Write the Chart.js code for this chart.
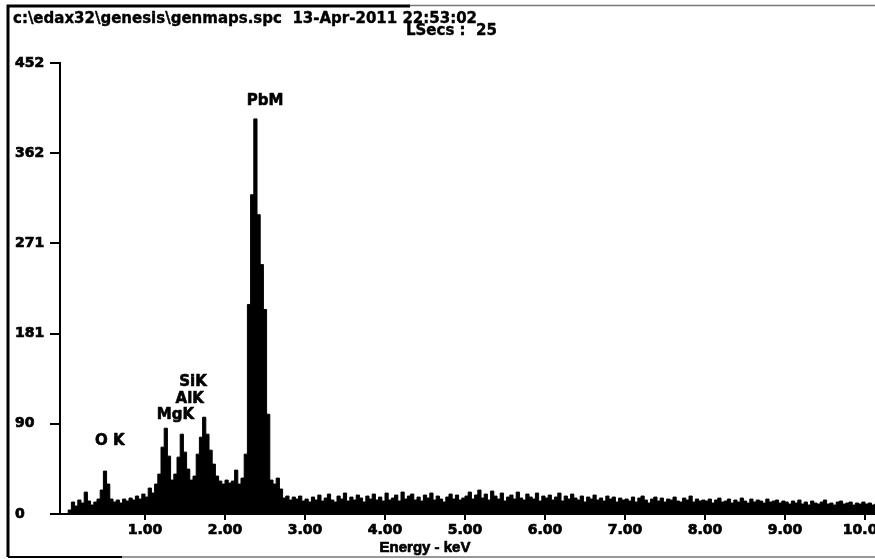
<!DOCTYPE html>
<html>
<head>
<meta charset="utf-8">
<script src="https://cdn.jsdelivr.net/npm/chart.js@4.4.0/dist/chart.umd.min.js"></script>
<style>
  html, body { margin: 0; padding: 0; background: #fff; }
</style>
</head>
<body>
<canvas id="spectrum" width="875" height="559"></canvas>
<script>
// EDS spectrum, 0.04 keV per channel
const channelWidth = 0.04;
const firstChannel = 0.02;

const counts = [
  0, 4, 12, 8, 14, 11, 22, 13, 9, 12,
  15, 24, 43, 30, 15, 12, 14, 11, 15, 13,
  16, 14, 18, 15, 20, 17, 26, 21, 30, 40,
  67, 86, 58, 34, 40, 57, 80, 62, 45, 34,
  38, 60, 77, 97, 80, 64, 50, 38, 33, 30,
  34, 31, 33, 44, 30, 36, 60, 210, 320, 396,
  300, 250, 205, 100, 34, 30, 36, 25, 16, 18,
  14, 17, 15, 18, 13,
  // 3.02 - 3.98
  15, 12, 17, 14, 19, 13, 16, 20, 14, 12, 18, 15, 21, 13, 17, 14, 19, 16, 12, 18, 15, 20, 14, 17, 13,
  // 4.02 - 4.98
  21, 14, 16, 19, 13, 22, 15, 18, 20, 14, 17, 13, 19, 16, 21, 14, 18, 15, 12, 17, 20, 15, 19, 14, 16,
  // 5.02 - 5.98
  18, 22, 15, 19, 24, 16, 20, 14, 23, 18, 15, 21, 13, 17, 19, 15, 22, 16, 14, 20, 17, 15, 21, 13, 18,
  // 6.02 - 6.98
  16, 19, 14, 17, 21, 13, 18, 15, 20, 16, 14, 18, 12, 17, 15, 19, 14, 16, 13, 18, 15, 17, 12, 16, 14,
  // 7.02 - 7.98
  15, 13, 17, 12, 16, 18, 14, 11, 15, 17, 13, 16, 12, 15, 14, 17, 13, 12, 16, 14, 18, 12, 15, 13, 14,
  // 8.02 - 8.98
  13, 15, 11, 14, 16, 12, 13, 15, 11, 14, 12, 16, 13, 11, 15, 12, 14, 13, 11, 15, 12, 13, 14, 11, 13,
  // 9.02 - 9.98
  12, 10, 13, 11, 14, 10, 12, 9, 13, 11, 10, 12, 14, 10, 11, 9, 12, 13, 10, 11, 12, 9, 11, 10, 12,
  // 10.02 - 10.14
  10, 11, 9, 10
];

const xTickValues = [1, 2, 3, 4, 5, 6, 7, 8, 9, 10];
const yTickValues = [0, 90.4, 180.8, 271.2, 361.6, 452];
const yTickLabels = ['0', '90', '181', '271', '362', '452'];

const peakNames = ['O K', 'MgK', 'AlK', 'SiK', 'PbM'];
const peakLabelEnergy = [0.56, 1.38, 1.56, 1.6, 2.5];
const peakLabelCounts = [73, 99, 115, 132, 414];

const titleLine1 = 'c:\\edax32\\genesis\\genmaps.spc  13-Apr-2011 22:53:02';
const titleLine2 = 'LSecs :  25';
const xAxisTitle = 'Energy - keV';

const energies = counts.map((c, i) => +(firstChannel + i * channelWidth).toFixed(2));

const boldFont = '"DejaVu Sans", sans-serif';

// heavy text like the scanned printout
function heavyText(ctx, text, x, y, w) {
  ctx.lineWidth = w;
  ctx.strokeText(text, x, y);
  ctx.fillText(text, x, y);
}

const decorations = {
  id: 'decorations',
  beforeDraw(chart) {
    const ctx = chart.ctx;
    ctx.save();
    ctx.fillStyle = '#fff';
    ctx.fillRect(0, 0, chart.width, chart.height);
    ctx.strokeStyle = '#000';
    ctx.lineWidth = 3;
    ctx.beginPath();
    ctx.moveTo(8, 557);
    ctx.lineTo(8, 6);
    ctx.lineTo(410, 6);
    ctx.stroke();
    ctx.lineWidth = 2;
    ctx.beginPath();
    ctx.moveTo(8, 557);
    ctx.lineTo(122, 557);
    ctx.stroke();
    ctx.strokeStyle = '#777';
    ctx.lineWidth = 1.5;
    ctx.beginPath();
    ctx.moveTo(410, 5.5);
    ctx.lineTo(875, 5.5);
    ctx.moveTo(122, 557);
    ctx.lineTo(875, 557);
    ctx.stroke();
    ctx.restore();
  },
  afterDraw(chart) {
    const ctx = chart.ctx;
    const x = chart.scales.x, y = chart.scales.y;
    ctx.save();
    ctx.fillStyle = '#000';
    ctx.strokeStyle = '#000';
    ctx.lineJoin = 'round';
    ctx.textBaseline = 'alphabetic';
    ctx.textAlign = 'left';
    ctx.font = 'bold 15px ' + boldFont;
    heavyText(ctx, titleLine1, 13, 23, 0.4);
    heavyText(ctx, titleLine2, 406, 35, 0.4);

    ctx.textAlign = 'center';
    ctx.textBaseline = 'middle';
    peakNames.forEach((name, i) => {
      heavyText(ctx, name, x.getPixelForValue(peakLabelEnergy[i]), y.getPixelForValue(peakLabelCounts[i]), 0.6);
    });

    ctx.font = 'bold 15px "Liberation Sans", sans-serif';
    heavyText(ctx, xAxisTitle, 425, 548, 0.7);
    ctx.restore();
  }
};

new Chart(document.getElementById('spectrum'), {
  type: 'line',
  data: {
    labels: energies,
    datasets: [{
      data: counts,
      stepped: 'middle',
      fill: 'origin',
      backgroundColor: '#000',
      borderColor: '#000',
      borderWidth: 1,
      pointRadius: 0
    }]
  },
  options: {
    responsive: false,
    animation: false,
    devicePixelRatio: 1,
    layout: { padding: { left: 15, top: 63, right: 0, bottom: 0 } },
    plugins: { legend: { display: false }, tooltip: { enabled: false } },
    scales: {
      x: {
        type: 'linear',
        min: -0.0625,
        max: 10.125,
        afterBuildTicks: s => { s.ticks = xTickValues.map(v => ({ value: v })); },
        afterFit: s => { s.height = 45; s.paddingLeft = 0; s.paddingRight = 0; },
        ticks: {
          callback: v => v.toFixed(2),
          color: '#000',
          textStrokeColor: '#000',
          textStrokeWidth: 0.7,
          font: { family: boldFont, size: 14, weight: 'bold' },
          padding: 2,
          maxRotation: 0,
          autoSkip: false
        },
        grid: { drawOnChartArea: false, drawTicks: true, tickLength: 6, color: '#000', lineWidth: 2 },
        border: { color: '#000', width: 2 }
      },
      y: {
        min: 0,
        max: 452,
        afterBuildTicks: s => { s.ticks = yTickValues.map(v => ({ value: v })); },
        afterFit: s => { s.width = 45; s.paddingTop = 0; s.paddingBottom = 0; },
        ticks: {
          callback: (v, i) => yTickLabels[i],
          crossAlign: 'far',
          color: '#000',
          textStrokeColor: '#000',
          textStrokeWidth: 0.7,
          font: { family: boldFont, size: 14, weight: 'bold' },
          autoSkip: false
        },
        grid: { drawOnChartArea: false, drawTicks: true, tickLength: 10, color: '#000', lineWidth: 2 },
        border: { color: '#000', width: 2 }
      }
    }
  },
  plugins: [decorations]
});
</script>
</body>
</html>
